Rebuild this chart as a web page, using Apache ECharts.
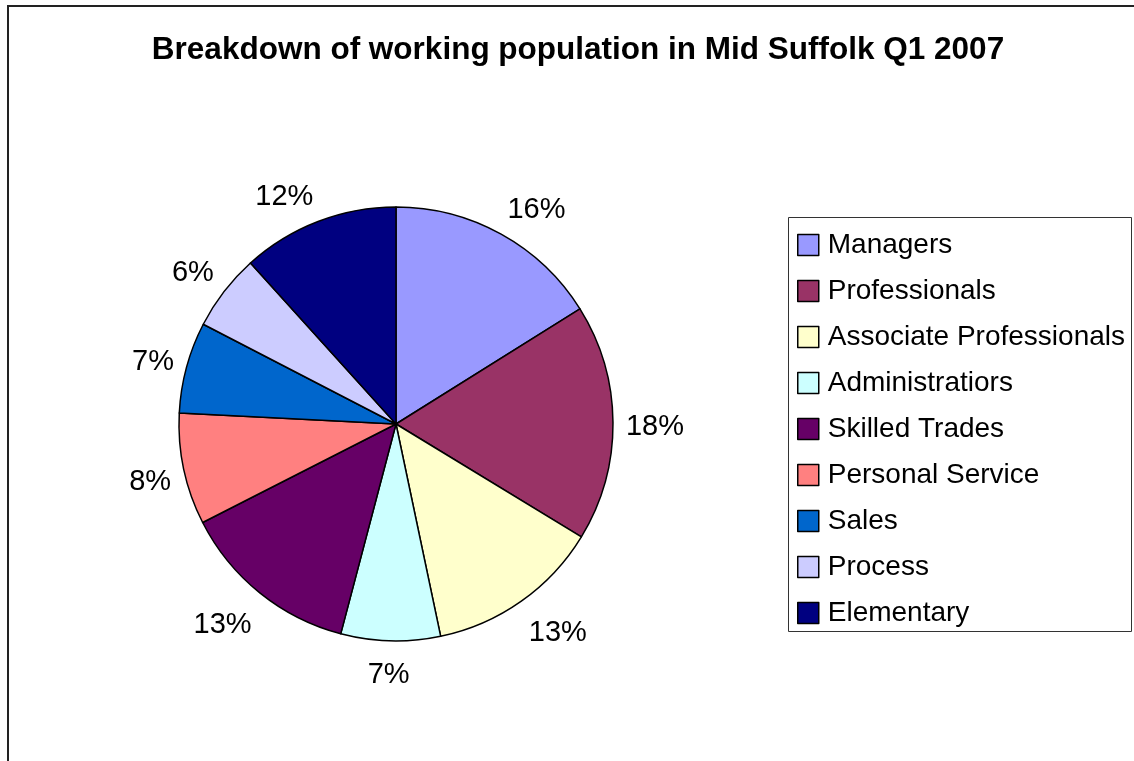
<!DOCTYPE html>
<html>
<head>
<meta charset="utf-8">
<script src="https://cdn.jsdelivr.net/npm/echarts@6/dist/echarts.min.js"></script>
<style>html,body{margin:0;padding:0;background:#fff}#c{width:1134px;height:761px}</style>
</head>
<body>
<div id="c"></div>
<script>
var categories = ["Managers","Professionals","Associate Professionals","Administratiors","Skilled Trades","Personal Service","Sales","Process","Elementary"];
var shares = [16.1, 17.6, 13.0, 7.4, 13.4, 8.3, 6.8, 5.7, 11.7];
var colors = ["#9999FF","#993366","#FFFFCC","#CCFFFF","#660066","#FF8080","#0066CC","#CCCCFF","#000080"];
var titleText = "Breakdown of working population in Mid Suffolk Q1 2007";

var FONT = "'Liberation Sans', Arial, sans-serif";
var CX = 396, CY = 424, RADIUS = 217, LABEL_R = 230, HALF_H = 17, BASE_SHIFT = 4.5;
var pieData = categories.map(function(n,i){return {name:n, value:shares[i], itemStyle:{color:colors[i]}};});

function clamp(v){return Math.max(-1, Math.min(1, v));}

var chart = echarts.init(document.getElementById('c'), null, {renderer:'canvas'});
chart.setOption({
  animation:false,
  backgroundColor:'#fff',
  title:{text:titleText, left:573, textAlign:'center', top:29,
    textStyle:{fontFamily:FONT, fontWeight:'bold', fontSize:31.5, color:'#000'}},
  graphic:[
    {type:'rect', shape:{x:8,y:6,width:1300,height:900}, style:{fill:'none', stroke:'#222', lineWidth:2}, silent:true, z:-1},
    {type:'rect', shape:{x:788.5,y:217.5,width:343,height:414}, style:{fill:'#fff', stroke:'#333', lineWidth:1}, silent:true, z:-1}
  ],
  legend:{orient:'vertical', left:797, top:231, padding:0, itemWidth:21, itemHeight:21, itemGap:18,
    icon:'rect', data:categories,
    textStyle:{fontFamily:FONT, fontSize:28, color:'#000', padding:[0,0,0,4]},
    itemStyle:{borderColor:'#000', borderWidth:1.5}},
  series:[
    {type:'pie', name:'main', center:[CX,CY], radius:[0,RADIUS], startAngle:90, clockwise:true,
      silent:true,
      label:{show:true, position:'inside', fontFamily:FONT, fontSize:29, color:'#000',
        formatter:function(p){return Math.round(p.percent)+'%';}},
      labelLine:{show:false},
      labelLayout:function(p){
        var r = p.labelRect;
        var lx = r.x + r.width/2, ly = r.y + r.height/2;
        var ang = Math.atan2(lx - CX, CY - ly);
        var s = Math.sin(ang), c = Math.cos(ang);
        return {
          x: CX + LABEL_R*s + r.width/2*clamp(3*s),
          y: CY - LABEL_R*c + HALF_H*clamp(-1.5*c) + BASE_SHIFT,
          align:'center', verticalAlign:'middle'
        };
      },
      itemStyle:{borderColor:'#000', borderWidth:1.5},
      data:pieData}
  ]
});
</script>
</body>
</html>
